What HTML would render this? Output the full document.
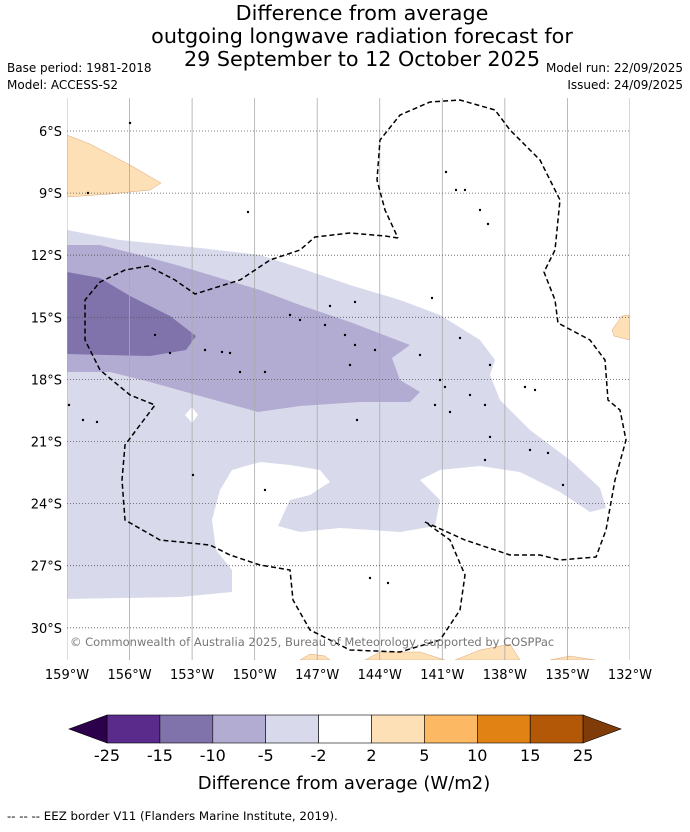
<!DOCTYPE html>
<html><head><meta charset="utf-8"><style>
body{margin:0;background:#fff;font-family:"Liberation Sans","DejaVu Sans",sans-serif}
svg text{font-family:"DejaVu Sans","Liberation Sans",sans-serif}
</style></head><body>
<svg id="chart" width="690" height="827" viewBox="0 0 690 827" xmlns="http://www.w3.org/2000/svg">
<g font-size="20.7" text-anchor="middle" fill="#000">
<text x="362" y="20">Difference from average</text>
<text x="362" y="43">outgoing longwave radiation forecast for</text>
<text x="362" y="66">29 September to 12 October 2025</text>
</g>
<text x="7" y="72" font-size="12">Base period: 1981-2018</text>
<text x="7" y="89" font-size="12">Model: ACCESS-S2</text>
<text x="683" y="72" font-size="12" text-anchor="end">Model run: 22/09/2025</text>
<text x="683" y="89" font-size="12" text-anchor="end">Issued: 24/09/2025</text>
<g id="map"></g>
<g id="axes"></g>
<g id="cbar"></g>
<text x="344" y="789" font-size="18" text-anchor="middle">Difference from average (W/m2)</text>
<text x="7" y="820" font-size="11.8">--  --  -- EEZ border V11 (Flanders Marine Institute, 2019).</text>
</svg>
<script>
const lonTicks=[-159,-156,-153,-150,-147,-144,-141,-138,-135,-132];
const lonLabels=["159°W","156°W","153°W","150°W","147°W","144°W","141°W","138°W","135°W","132°W"];
const latTicks=[-6,-9,-12,-15,-18,-21,-24,-27,-30];
const latLabels=["6°S","9°S","12°S","15°S","18°S","21°S","24°S","27°S","30°S"];
const levels=[-25,-15,-10,-5,-2,2,5,10,15,25];
const levelColors=["#5b2b8c","#8073ac","#b2abd2","#d8daeb","#ffffff","#fee0b6","#fdb863","#e08214","#b35806"];
const extendColors=["#2d004b","#7f3b08"];
const NS="http://www.w3.org/2000/svg";
const X0=67,X1=630,Y0=98,Y1=660;
const lonX=l=>67+(l+159)*20.85;
const latY=l=>131+(-6-l)*20.7;
const px2ll=p=>p.map(([x,y])=>[-159+(x-67)/20.85,-6-(y-131)/20.7]);
const regLight=px2ll([[67,230],[120,240],[200,248],[260,255],[300,268],[350,285],[400,300],[440,315],[480,340],[495,360],[490,375],[500,400],[530,430],[570,460],[600,488],[606,508],[590,512],[560,492],[520,472],[480,466],[440,470],[420,480],[440,500],[435,526],[400,532],[340,528],[300,532],[278,526],[290,500],[310,495],[330,482],[320,470],[290,465],[260,462],[232,470],[220,490],[212,520],[216,550],[232,570],[232,592],[180,597],[67,599]]);
const regMid=px2ll([[67,245],[100,245],[140,255],[180,266],[220,278],[260,290],[300,305],[350,322],[410,345],[392,358],[400,380],[420,392],[410,402],[360,402],[300,406],[258,412],[200,396],[150,382],[110,372],[67,372]]);
const regDark=px2ll([[67,272],[100,278],[130,296],[170,316],[196,336],[186,350],[150,356],[67,354]]);
const regOrange1=px2ll([[67,135],[90,144],[130,165],[161,183],[150,190],[110,194],[67,197]]);
const regOrange2=px2ll([[612,330],[622,316],[630,315],[630,340],[614,336]]);
const regOrange3=px2ll([[300,660],[310,654],[325,656],[330,660]]);
const regOrange4=px2ll([[365,660],[380,652],[420,652],[445,660]]);
const regOrange5=px2ll([[455,660],[480,650],[510,644],[520,660]]);
const regOrange6=px2ll([[550,660],[570,656],[595,660]]);
const regHole=px2ll([[185,415],[192,407],[198,415],[192,423]]);
const eez=px2ll([[398,238],[385,236],[350,233],[315,237],[300,250],[270,260],[240,280],[195,294],[175,280],[148,266],[125,270],[100,282],[85,300],[85,340],[100,370],[130,395],[155,405],[125,445],[122,480],[125,520],[160,540],[210,545],[230,555],[260,565],[290,570],[293,600],[310,630],[350,650],[400,652],[440,640],[460,610],[465,575],[450,540],[425,522],[465,540],[510,555],[540,555],[560,560],[596,557],[606,530],[615,480],[626,440],[620,410],[608,400],[605,360],[590,340],[558,323],[555,300],[544,272],[555,250],[560,200],[540,160],[510,130],[495,110],[460,100],[430,102],[400,115],[380,140],[377,180],[385,210],[398,238]]);
const islands=px2ll([[130,123],[88,193],[248,212],[446,172],[456,190],[465,190],[480,210],[488,224],[432,298],[330,306],[355,302],[290,315],[300,320],[325,325],[345,335],[355,345],[375,350],[205,350],[222,352],[240,372],[265,372],[350,365],[440,380],[445,387],[420,355],[460,338],[490,365],[525,387],[535,390],[470,395],[485,405],[435,405],[450,412],[357,420],[83,420],[97,422],[193,475],[265,490],[485,460],[490,437],[530,450],[548,453],[563,485],[370,578],[388,583],[69,405],[155,335],[170,353],[230,353]]);
function poly(pts,fill,name,stroke){
 const p=document.createElementNS(NS,'path');
 p.setAttribute('d','M'+pts.map(([a,b])=>lonX(a).toFixed(1)+','+latY(b).toFixed(1)).join('L')+'Z');
 p.setAttribute('fill',fill);
 if(stroke){p.setAttribute('stroke',stroke);p.setAttribute('stroke-width','0.5');}
 
 
 return p;
}
const map=document.getElementById('map');
const cp=document.createElementNS(NS,'clipPath');cp.id='clip';
const cr=document.createElementNS(NS,'rect');cr.setAttribute('x',X0);cr.setAttribute('y',Y0);cr.setAttribute('width',X1-X0);cr.setAttribute('height',Y1-Y0);
cp.appendChild(cr);map.appendChild(cp);
const g=document.createElementNS(NS,'g');g.setAttribute('clip-path','url(#clip)');map.appendChild(g);
g.appendChild(poly(regLight,levelColors[3],'contour-minus5-to-minus2'));
g.appendChild(poly(regHole,'#fff','contour-hole'));
g.appendChild(poly(regMid,levelColors[2],'contour-minus10-to-minus5'));
g.appendChild(poly(regDark,levelColors[1],'contour-minus15-to-minus10'));
[regOrange1,regOrange2,regOrange3,regOrange4,regOrange5,regOrange6].forEach(r=>g.appendChild(poly(r,levelColors[5],'contour-2-to-5','#d9a77a')));
lonTicks.forEach((l,i)=>{const ln=document.createElementNS(NS,'line');
 ln.setAttribute('x1',lonX(l));ln.setAttribute('x2',lonX(l));ln.setAttribute('y1',Y0);ln.setAttribute('y2',Y1);
 ln.setAttribute('stroke','#aaa');ln.setAttribute('stroke-width','0.8');
 
 g.appendChild(ln);});
latTicks.forEach(l=>{const ln=document.createElementNS(NS,'line');
 ln.setAttribute('x1',X0);ln.setAttribute('x2',X1);ln.setAttribute('y1',latY(l));ln.setAttribute('y2',latY(l));
 ln.setAttribute('stroke','#555');ln.setAttribute('stroke-width','0.8');ln.setAttribute('stroke-dasharray','1,2');
 
 g.appendChild(ln);});
islands.forEach(([a,b])=>{const c=document.createElementNS(NS,'circle');
 c.setAttribute('cx',lonX(a));c.setAttribute('cy',latY(b));c.setAttribute('r','1.2');c.setAttribute('fill','#000');
 
 g.appendChild(c);});
const e=document.createElementNS(NS,'path');
e.setAttribute('d','M'+eez.map(([a,b])=>lonX(a).toFixed(1)+','+latY(b).toFixed(1)).join('L'));
e.setAttribute('fill','none');e.setAttribute('stroke','#000');e.setAttribute('stroke-width','1.5');e.setAttribute('stroke-dasharray','5,3');

g.appendChild(e);
const cpy=document.createElementNS(NS,'text');cpy.setAttribute('x',70);cpy.setAttribute('y',646);cpy.setAttribute('font-size','11.5');cpy.setAttribute('fill','#777');
cpy.textContent='© Commonwealth of Australia 2025, Bureau of Meteorology, supported by COSPPac';

g.appendChild(cpy);
const ax=document.getElementById('axes');
lonTicks.forEach((l,i)=>{const t=document.createElementNS(NS,'text');t.setAttribute('x',lonX(l));t.setAttribute('y',679);
 t.setAttribute('font-size','13');t.setAttribute('text-anchor','middle');t.textContent=lonLabels[i];
 
 ax.appendChild(t);});
latTicks.forEach((l,i)=>{const t=document.createElementNS(NS,'text');t.setAttribute('x',62);t.setAttribute('y',latY(l)+5);
 t.setAttribute('font-size','13');t.setAttribute('text-anchor','end');t.textContent=latLabels[i];
 
 ax.appendChild(t);});
const cb=document.getElementById('cbar');
const CB0=107,CBW=52.9,CY=715,CH=28;
levelColors.forEach((c,i)=>{const r=document.createElementNS(NS,'rect');
 r.setAttribute('x',CB0+i*CBW);r.setAttribute('y',CY);r.setAttribute('width',CBW);r.setAttribute('height',CH);
 r.setAttribute('fill',c);r.setAttribute('stroke','#000');r.setAttribute('stroke-width','0.6');
 
 cb.appendChild(r);});
const CBE=CB0+levelColors.length*CBW;
[[`M${CB0},${CY}L69,${CY+CH/2}L${CB0},${CY+CH}Z`,extendColors[0]],[`M${CBE},${CY}L621,${CY+CH/2}L${CBE},${CY+CH}Z`,extendColors[1]]].forEach(([d,c])=>{
 const p=document.createElementNS(NS,'path');p.setAttribute('d',d);p.setAttribute('fill',c);p.setAttribute('stroke','#000');p.setAttribute('stroke-width','0.6');
 
 cb.appendChild(p);});
levels.forEach((v,i)=>{const t=document.createElementNS(NS,'text');t.setAttribute('x',CB0+i*CBW);t.setAttribute('y',761);
 t.setAttribute('font-size','16');t.setAttribute('text-anchor','middle');t.textContent=String(v);
 
 cb.appendChild(t);});
</script>
</body></html>
